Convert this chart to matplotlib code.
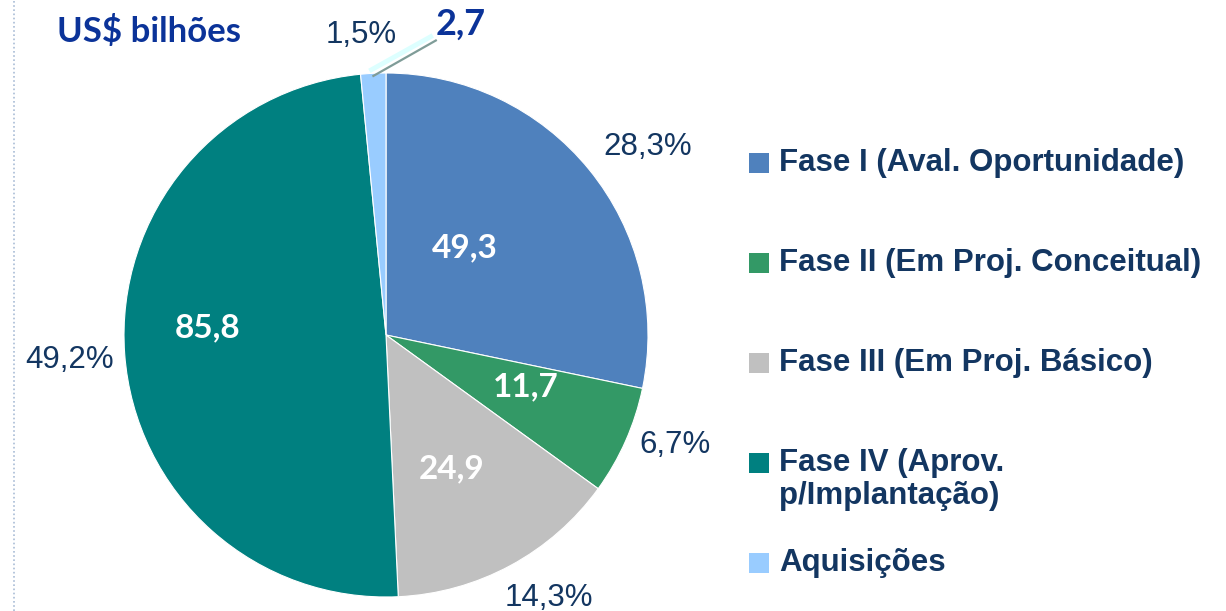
import numpy as np
import matplotlib.pyplot as plt

# data (US$ billions)
categories = ["Fase I (Aval. Oportunidade)", "Fase II (Em Proj. Conceitual)",
              "Fase III (Em Proj. Básico)", "Fase IV (Aprov.\np/Implantação)",
              "Aquisições"]
values = [49.3, 11.7, 24.9, 85.8, 2.7]
colors = ["#4F81BD", "#339966", "#C0C0C0", "#008080", "#99CCFF"]

NAVY = "#133661"
BLUE = "#0B3399"

W, H = 1226, 611
fig = plt.figure(figsize=(W / 100, H / 100), dpi=100)
ax = fig.add_axes([0, 0, 1, 1])

center = (386, H - 335)
radius = 262

wedges, _ = ax.pie(values, colors=colors, startangle=90, counterclock=False,
                   center=center, radius=radius,
                   wedgeprops=dict(edgecolor="white", linewidth=0.8))
ax.set_xlim(0, W)
ax.set_ylim(0, H)
ax.set_aspect("equal")
ax.axis("off")

total = sum(values)


def fmt(v, nd=1):
    return f"{v:.{nd}f}".replace(".", ",")


def polar(ang, r):
    a = np.deg2rad(ang)
    return center[0] + r * radius * np.cos(a), center[1] + r * radius * np.sin(a)


# label placement tweaks (radius factor, angle offset)
inner_pos = [(0.45, 8.7), (0.57, 3.6), (0.57, -2.2), (0.68, -6.4)]
outer_pos = [(1.23, -3.4), (1.18, 2.9), (1.18, 3.3), (1.21, 0.4), (1.15, 2.0)]

for i, w in enumerate(wedges):
    mid = (w.theta1 + w.theta2) / 2
    r, off = outer_pos[i]
    x, y = polar(mid + off, r)
    ax.text(x, y, fmt(100 * values[i] / total) + "%", ha="center", va="center",
            fontsize=22.5, color=NAVY, family="Liberation Sans")
    if i < len(inner_pos):
        r, off = inner_pos[i]
        x, y = polar(mid + off, r)
        ax.text(x, y, fmt(values[i]), ha="center", va="center", fontsize=24,
                color="white", fontweight="bold", family="Lato")

# small slice: value with leader line
w = wedges[-1]
mid = (w.theta1 + w.theta2) / 2
x0, y0 = polar(mid, 0.99)
x1, y1 = polar(80.4, 1.14)
ax.plot([x0 - 4, x1 - 3], [y0 + 5, y1 + 5], color="#DDFFFF", lw=3.5,
        solid_capstyle="butt", zorder=3)
ax.plot([x0, x1], [y0, y1], color="#7F9C98", lw=1.6, zorder=4)
ax.text(x1 + 0, y1 + 16, fmt(values[-1]), ha="left", va="center", fontsize=26,
        color=BLUE, fontweight="bold", family="Lato")

# title
ax.text(57, H - 31, "US$ bilhões", ha="left", va="center", fontsize=25,
        color=BLUE, fontweight="bold", family="Lato")

# legend drawn by hand
for i, (lab, c) in enumerate(zip(categories, colors)):
    yc = H - (163 + 100 * i)
    ax.add_patch(plt.Rectangle((749, yc - 10), 20, 20, color=c, lw=0))
    ax.text(779, yc + 15, lab, ha="left", va="top", fontsize=22.5,
            fontweight="bold", color=NAVY, family="Liberation Sans",
            linespacing=1.15)

# dotted frame edge on the left
ax.plot([14, 14], [0, H], ls=(0, (1, 1.5)), color="#A9BCD6", lw=1.2)

fig.savefig("out.png", dpi=100)
